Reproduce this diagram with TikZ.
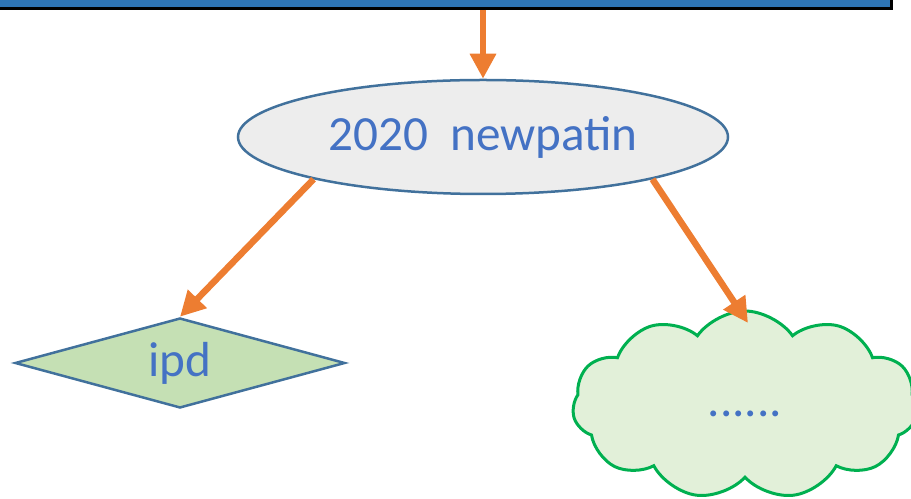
\documentclass[tikz,border=0pt]{standalone}
\usepackage{fontspec}
\setmainfont{Carlito}
\usepackage{tikz}
\usetikzlibrary{arrows.meta}
\usetikzlibrary{shapes.geometric, shapes.symbols, calc}

\definecolor{fleche}{HTML}{ED7D31}
\definecolor{texteb}{HTML}{4472C4}
\definecolor{bord}{HTML}{41719C}
\definecolor{grisfond}{HTML}{EDEDED}
\definecolor{vertfond}{HTML}{C5E0B4}
\definecolor{nuagefond}{HTML}{E2F0D9}
\definecolor{nuagebord}{HTML}{00B050}
\definecolor{bleuboite}{HTML}{2E75B6}

\tikzset{
  fleche/.style={draw=fleche, line width=0.13cm, -{Triangle[length=0.5cm, width=0.5cm]}},
  etiquette/.style={text=texteb, font=\fontsize{28}{32}\selectfont, inner sep=0pt}
}

\begin{document}
\begin{tikzpicture}
            \useasboundingbox (0,0) rectangle (18.22,9.96);
            \clip (0,0) rectangle (18.22,9.96);

            % Boite du haut
            \node[draw=black, fill=bleuboite, line width=0.06cm, minimum width=19cm, minimum height=1.6cm, anchor=south east] (haut) at (17.86,9.76) {};

            % Ellipse
            \node[ellipse, draw=bord, fill=grisfond, line width=0.05cm, minimum width=9.8cm, minimum height=2.28cm, etiquette] (annee) at (9.66,7.22) {2020\ \ newpatin};

            % Losange
            \node[diamond, aspect=3.67, draw=bord, fill=vertfond, line width=0.05cm, minimum width=6.6cm, minimum height=1.8cm, etiquette] (ipd) at (3.6,2.7) {ipd};

            % Nuage
            \node[cloud, cloud puffs=11, cloud puff arc=110, draw=nuagebord, fill=nuagefond, line width=0.06cm, minimum width=6.9cm, minimum height=3.76cm, etiquette, text height=0.45cm, text depth=0cm] (suite) at (14.9,1.86) {......};

            % Fleches
            \draw[fleche] (haut.south -| annee.north) -- (annee.north);
            \draw[fleche] (annee.194) -- (ipd.north);
            \draw[fleche] (annee.346) -- ($(suite.center)+(0.06,1.64)$);
        \end{tikzpicture}
\end{document}
